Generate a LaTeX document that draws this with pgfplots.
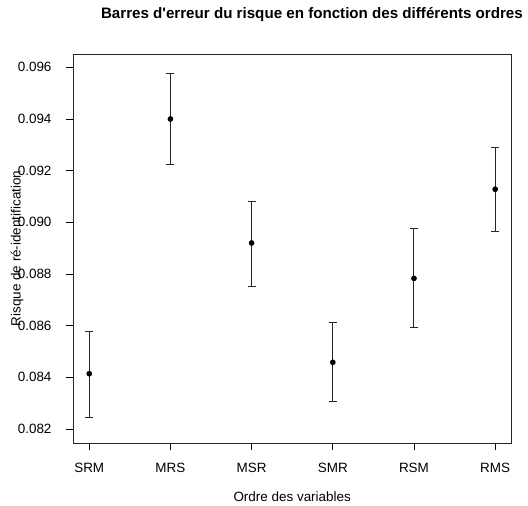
\documentclass[border=0pt]{standalone}
\usepackage{fontspec}
\setmainfont{Liberation Sans}
\setsansfont{Liberation Sans}
\usepackage{pgfplots}
\usepackage{pgfplotstable}
\pgfplotsset{compat=1.18}

% mean risk with lower/upper bounds for each variable order
\pgfplotstableread{
x  y        lo       hi
1  0.08414  0.08245  0.08579
2  0.09400  0.09223  0.09578
3  0.08920  0.08753  0.09080
4  0.08458  0.08306  0.08614
5  0.08783  0.08592  0.08976
6  0.09128  0.08964  0.09288
}\risque

\begin{document}
\begin{tikzpicture}[x=1bp,y=1bp]
\begin{axis}[
  at={(0,0)}, anchor=south west,
  scale only axis, width=438.4bp, height=389bp,
  xmin=0.8, xmax=6.2, ymin=0.081457, ymax=0.096516,
  xtick={1,2,3,4,5,6},
  xticklabels={SRM,MRS,MSR,SMR,RSM,RMS},
  ytick={0.082,0.084,0.086,0.088,0.090,0.092,0.094,0.096},
  scaled y ticks=false,
  yticklabel style={xshift=-11bp, /pgf/number format/.cd, fixed, precision=3, zerofill},
  xticklabel style={yshift=-10bp},
  /pgf/number format/assume math mode=true,
  xtick pos=bottom, ytick pos=left,
  tick align=outside, major tick length=7bp,
  tick style={black, line width=0.8bp},
  axis line style={line width=0.8bp, black!85},
  ticklabel style={font=\fontsize{13.5}{14}\selectfont},
  label style={font=\fontsize{13.5}{14}\selectfont},
  title style={font=\fontsize{15.2}{16}\selectfont\bfseries,
    at={(axis description cs:0.545,1)}, anchor=center, yshift=34bp},
  title={Barres d\textquotesingle erreur du risque en fonction des différents ordres},
  xlabel style={at={(axis description cs:0.5,0)}, anchor=center, yshift=-54bp},
  xlabel={Ordre des variables},
  ylabel style={at={(axis description cs:-0.1277,0.5)}, anchor=center, rotate=0},
  ylabel={Risque de ré-identification},
]
\addplot[only marks, mark=*, black, mark size=2.6bp,
  error bars/.cd, y dir=both, y explicit,
  error bar style={line width=1bp, black!85},
  error mark options={rotate=90, mark size=4bp, line width=1bp, black!85}]
  table[x=x, y=y,
        y error plus expr=\thisrow{hi}-\thisrow{y},
        y error minus expr=\thisrow{y}-\thisrow{lo}] {\risque};
\end{axis}
\pgfresetboundingbox
\path[use as bounding box] (-73bp,-63bp) rectangle (455bp,443bp);
\end{tikzpicture}
\end{document}
